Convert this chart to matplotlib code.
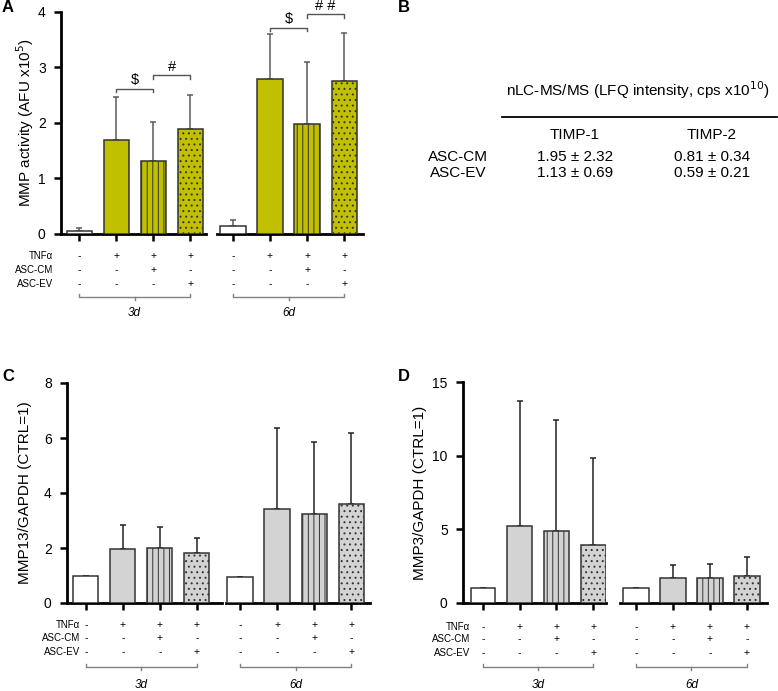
import matplotlib.pyplot as plt
import matplotlib.transforms as mtransforms
import numpy as np

plt.rcParams['font.family'] = ['Liberation Sans', 'DejaVu Sans']
plt.rcParams['hatch.linewidth'] = 0.7

W, H = 778, 691

# ---- data ----
groups = ['3d', '6d']
row_names = ['TNFα', 'ASC-CM', 'ASC-EV']
rows = [['-', '+', '+', '+'],
        ['-', '-', '+', '-'],
        ['-', '-', '-', '+']]

a_mean = [[0.06, 1.69, 1.32, 1.90], [0.14, 2.79, 1.99, 2.76]]
a_sd = [[0.05, 0.78, 0.70, 0.60], [0.12, 0.81, 1.11, 0.87]]
# (group, bar i, bar j, height, label)
a_sig = [(0, 1, 2, 2.62, '$'), (0, 2, 3, 2.86, '#'),
         (1, 1, 2, 3.72, '$'), (1, 2, 3, 3.96, '# #')]

c_mean = [[1.0, 1.98, 2.0, 1.81], [0.95, 3.41, 3.24, 3.59]]
c_sd = [[0, 0.86, 0.78, 0.57], [0, 2.96, 2.63, 2.60]]

d_mean = [[1.0, 5.26, 4.87, 3.92], [1.0, 1.69, 1.69, 1.85]]
d_sd = [[0, 8.44, 7.58, 5.91], [0, 0.90, 0.95, 1.26]]

tab_cols = ['TIMP-1', 'TIMP-2']
tab_rows = ['ASC-CM', 'ASC-EV']
tab_vals = [['1.95 ± 2.32', '0.81 ± 0.34'],
            ['1.13 ± 0.69', '0.59 ± 0.21']]

hatches = ['', '', '|||', '...']

fig = plt.figure(figsize=(W / 100, H / 100), dpi=100)


def px_axes(x0, x1, ytop, ybot):
    return fig.add_axes([x0 / W, 1 - ybot / H, (x1 - x0) / W, (ybot - ytop) / H])


def panel(means, sds, ylim, yticks, ylabel, fill, ecol, axpx, xlims, ytop, ybot,
          rows_y, lab_x, ylab_x):
    axes = []
    for g in range(2):
        ax = px_axes(axpx[g][0], axpx[g][1], ytop, ybot)
        x = np.arange(4)
        colors = ['white', fill, fill, fill]
        ax.bar(x, means[g], 0.68, color=colors, edgecolor='#333333',
               linewidth=1.1, hatch=hatches, zorder=3)
        ax.errorbar(x, means[g], yerr=[np.zeros(4), sds[g]], fmt='none',
                    ecolor=ecol, elinewidth=1.1, capsize=2.2, capthick=1.1, zorder=2)
        ax.set_xlim(*xlims[g])
        ax.set_ylim(*ylim)
        for s in ['top', 'right']:
            ax.spines[s].set_visible(False)
        ax.spines['bottom'].set_linewidth(2)
        ax.set_xticks(x)
        ax.set_xticklabels([])
        ax.tick_params(axis='x', length=5, width=1.8, direction='out')
        if g == 0:
            ax.spines['left'].set_linewidth(2)
            ax.set_yticks(yticks)
            ax.tick_params(axis='y', length=5, width=1.8, labelsize=10, pad=6)
            ax.set_ylabel(ylabel, fontsize=11, va='center')
            ax.yaxis.set_label_coords(ylab_x / W, 0.5,
                                      transform=mtransforms.blended_transform_factory(
                                          fig.transFigure, ax.transAxes))
        else:
            ax.spines['left'].set_visible(False)
            ax.set_yticks([])
        tr = mtransforms.blended_transform_factory(ax.transData, fig.transFigure)
        for r in range(3):
            for i in range(4):
                ax.text(i, 1 - rows_y[r] / H, rows[r][i], transform=tr,
                        ha='center', va='center', fontsize=7.5)
        # group bracket
        yb = 1 - rows_y[3] / H
        ax.plot([0, 0, 3, 3], [yb + 3 / H, yb, yb, yb + 3 / H], transform=tr,
                color='#808080', lw=1, clip_on=False)
        ax.plot([1.5, 1.5], [yb, yb - 3 / H], transform=tr,
                color='#808080', lw=1, clip_on=False)
        ax.text(1.5, 1 - rows_y[4] / H, groups[g], transform=tr, ha='center',
                va='center', fontsize=8.5, style='italic')
        axes.append(ax)
    for r in range(3):
        fig.text(lab_x / W, 1 - rows_y[r] / H, row_names[r], ha='right',
                 va='center', fontsize=7)
    return axes


# ---- panel A ----
axA = panel(a_mean, a_sd, (0, 4), [0, 1, 2, 3, 4], 'MMP activity (AFU x10$^5$)',
            '#C0C000', '#5a5a5a', [(61, 206), (217, 363)],
            [(-0.49, 3.43), (-0.43, 3.51)], 12, 234,
            [256, 270, 284, 297, 313], 53, 25)
for g, i, j, h, lab in a_sig:
    ax = axA[g]
    ax.plot([i, i, j, j], [h - 0.07, h, h, h - 0.07], color='#555555', lw=1,
            clip_on=False)
    ax.text((i + j) / 2, h + 0.02, lab, ha='center', va='bottom', fontsize=10.5,
            clip_on=False)

# ---- panel C ----
panel(c_mean, c_sd, (0, 8), [0, 2, 4, 6, 8], 'MMP13/GAPDH (CTRL=1)',
      '#D3D3D3', '#222222', [(67, 222), (226, 370)],
      [(-0.51, 3.68), (-0.38, 3.51)], 383, 603,
      [625, 638, 652, 667, 685], 80, 25)

# ---- panel D ----
panel(d_mean, d_sd, (0, 15), [0, 5, 10, 15], 'MMP3/GAPDH (CTRL=1)',
      '#D3D3D3', '#222222', [(463, 606), (620, 767)],
      [(-0.545, 3.35), (-0.43, 3.54)], 382, 603,
      [627, 639, 653, 667, 685], 470, 420)

# ---- panel B (table) ----
fig.text(638 / W, 1 - 90 / H, 'nLC-MS/MS (LFQ intensity, cps x10$^{10}$)',
         ha='center', va='center', fontsize=11)
fig.add_artist(plt.Line2D([502 / W, 777 / W], [1 - 117 / H, 1 - 117 / H],
                          color='black', lw=1.3))
col_x = [575, 712]
for k, c in enumerate(tab_cols):
    fig.text(col_x[k] / W, 1 - 135 / H, c, ha='center', va='center', fontsize=11)
for r, name in enumerate(tab_rows):
    yy = 1 - (157 + 16 * r) / H
    fig.text(458 / W, yy, name, ha='center', va='center', fontsize=11)
    for k in range(2):
        fig.text(col_x[k] / W, yy, tab_vals[r][k], ha='center', va='center',
                 fontsize=11)

# panel letters
for lab, (x, y) in zip('ABCD', [(2, 7), (398, 7), (2, 377), (398, 377)]):
    fig.text(x / W, 1 - y / H, lab, ha='left', va='center', fontsize=12,
             fontweight='bold')

plt.savefig('out.png', dpi=100)
